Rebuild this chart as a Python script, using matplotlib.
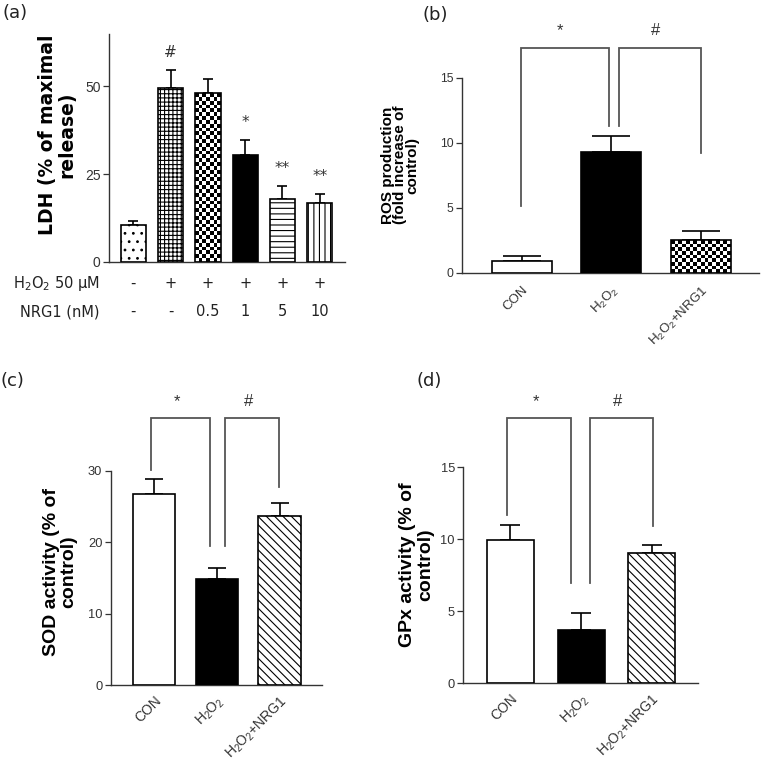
import numpy as np
import matplotlib
matplotlib.use('Agg')
import matplotlib.pyplot as plt
from matplotlib.patches import Rectangle

plt.rcParams['font.family'] = ['Liberation Sans', 'DejaVu Sans']
plt.rcParams['hatch.linewidth'] = 0.8
plt.rcParams['mathtext.default'] = 'regular'

# ---- data ----
# (a) LDH release
ldh_mean = [10.4, 49.6, 48.0, 30.4, 18.0, 16.6]
ldh_err = [1.2, 5.0, 4.0, 4.2, 3.5, 2.6]
ldh_marks = ['', '#', '', '*', '**', '**']
h2o2_row = ['-', '+', '+', '+', '+', '+']
nrg1_row = ['-', '-', '0.5', '1', '5', '10']

groups = ['CON', r'$\mathregular{H_2O_2}$', r'$\mathregular{H_2O_2}$+NRG1']

# (b) ROS production
ros_mean = [0.92, 9.3, 2.5]
ros_err = [0.36, 1.2, 0.7]
# (c) SOD activity
sod_mean = [26.7, 14.85, 23.6]
sod_err = [2.1, 1.55, 1.9]
# (d) GPx activity
gpx_mean = [9.95, 3.68, 9.03]
gpx_err = [1.02, 1.22, 0.55]

# significance brackets: (x_left, x_right, y_left_end, y_right_end), top, mark
ros_brackets = [(-0.01, 0.97, 5.15, 11.3), (1.08, 2.0, 11.3, 9.2)]
ros_top = 17.3
sod_brackets = [(-0.05, 0.9, 30.1, 19.5), (1.14, 1.99, 19.5, 27.7)]
sod_top = 37.3
gpx_brackets = [(-0.045, 0.86, 11.7, 7.0), (1.12, 2.02, 7.0, 10.9)]
gpx_top = 18.4
marks = ['*', '#']

W, H = 761, 763
fig = plt.figure(figsize=(W / 100, H / 100), dpi=100)


def box(l, t, r, b):
    return [l / W, 1 - b / H, (r - l) / W, (b - t) / H]


def style(ax, yticks, size):
    for s in ['top', 'right']:
        ax.spines[s].set_visible(False)
    for s in ['left', 'bottom']:
        ax.spines[s].set_color('#333333')
        ax.spines[s].set_linewidth(1.0)
    ax.set_yticks(yticks)
    ax.tick_params(axis='y', length=4, width=0.9, color='#333333',
                   labelsize=size, labelcolor='#333333', pad=2)
    ax.tick_params(axis='x', length=0)


def checker(ax, x, h, w, cell=3.8):
    p0 = ax.transData.transform((x - w / 2, 0))
    p1 = ax.transData.transform((x + w / 2, h))
    nx = max(1, int(round((p1[0] - p0[0]) / cell)))
    ny = max(1, int(round((p1[1] - p0[1]) / cell)))
    board = np.indices((ny, nx)).sum(axis=0) % 2
    im = ax.imshow(board, extent=(x - w / 2, x + w / 2, 0, h), cmap='gray',
                   interpolation='nearest', aspect='auto', zorder=2)
    clip = Rectangle((x - w / 2, 0), w, h, transform=ax.transData)
    im.set_clip_path(clip)


def bars(ax, means, errs, width, styles, capsize):
    x = np.arange(len(means))
    ax.errorbar(x, means, yerr=[np.zeros(len(errs)), errs], fmt='none',
                ecolor='black', elinewidth=1.2, capsize=capsize, capthick=1.2,
                zorder=1)
    for xi, m, st in zip(x, means, styles):
        if st == 'checker':
            checker(ax, xi, m, width)
            ax.bar(xi, m, width, facecolor='none', edgecolor='black',
                   linewidth=1.2, zorder=3)
        elif st == 'black':
            ax.bar(xi, m, width, color='black', edgecolor='black',
                   linewidth=1.2, zorder=3)
        else:
            ax.bar(xi, m, width, color='white', edgecolor='black',
                   hatch=st, linewidth=1.2, zorder=3)
    return x


def brackets(ax, brs, top, lw=1.3):
    for (xl, xr, yl, yr), mk in zip(brs, marks):
        ax.plot([xl, xl, xr, xr], [yl, top, top, yr], color='#555555',
                lw=lw, clip_on=False, solid_joinstyle='miter')
        ax.annotate(mk, ((xl + xr) / 2 - 0.05, top), xytext=(0, 9),
                    textcoords='offset points', ha='center', va='baseline',
                    fontsize=12, color='#333333', annotation_clip=False)


# ---- (a) ----
ax = fig.add_axes(box(109, 33.7, 345, 261.7))
ax.set_xlim(-0.651, 5.676)
ax.set_ylim(0, 65)
style(ax, [0, 25, 50], 10)
x = bars(ax, ldh_mean, ldh_err, 0.678,
         ['..', '++++', 'checker', 'black', '---', '|||'], 3.8)
ax.set_xlim(-0.651, 5.676)
ax.set_ylim(0, 65)
ax.set_xticks([])
for xi, m, e, mk in zip(x, ldh_mean, ldh_err, ldh_marks):
    if mk:
        ax.text(xi, m + e + 5, mk, ha='center', va='center', fontsize=11,
                color='#333333', family='DejaVu Sans')
tr = ax.get_xaxis_transform()
ax.text(-0.893, -0.0947, r'$\mathregular{H_2O_2}$ 50 μM', transform=tr,
        ha='right', va='center', fontsize=10.5, family='DejaVu Sans',
        color='#222222', clip_on=False)
ax.text(-0.893, -0.219, 'NRG1 (nM)', transform=tr, ha='right', va='center',
        fontsize=10.5, family='DejaVu Sans', color='#222222', clip_on=False)
for xi, a, b in zip(x, h2o2_row, nrg1_row):
    ax.text(xi, -0.0947, a, transform=tr, ha='center', va='center',
            fontsize=10.5, family='DejaVu Sans', color='#222222')
    ax.text(xi, -0.219, b, transform=tr, ha='center', va='center',
            fontsize=10.5, family='DejaVu Sans', color='#222222')

# ---- (b) ----
ax = fig.add_axes(box(461.7, 77.7, 759, 272.7))
ax.set_xlim(-0.668, 2.643)
ax.set_ylim(0, 15)
style(ax, [0, 5, 10, 15], 8.7)
x = bars(ax, ros_mean, ros_err, 0.668, ['', 'black', 'checker'], 14)
ax.set_xlim(-0.668, 2.643)
ax.set_ylim(0, 15)
ax.set_xticks(x)
ax.set_xticklabels(groups, rotation=45, ha='right', rotation_mode='anchor',
                   fontsize=9.5, color='#333333')
ax.tick_params(axis='x', pad=8)
brackets(ax, ros_brackets, ros_top)

# ---- (c) ----
ax = fig.add_axes(box(110.7, 470.7, 321.7, 685.3))
ax.set_xlim(-0.684, 2.671)
ax.set_ylim(0, 30)
style(ax, [0, 10, 20, 30], 9.3)
x = bars(ax, sod_mean, sod_err, 0.668, ['', 'black', '\\\\\\\\'], 6.2)
ax.set_xticks(x)
ax.set_xticklabels(groups, rotation=45, ha='right', rotation_mode='anchor',
                   fontsize=10, color='#333333')
ax.tick_params(axis='x', pad=6)
brackets(ax, sod_brackets, sod_top)

# ---- (d) ----
ax = fig.add_axes(box(463.3, 467.3, 697.7, 683.3))
ax.set_xlim(-0.668, 2.650)
ax.set_ylim(0, 15)
style(ax, [0, 5, 10, 15], 9.3)
x = bars(ax, gpx_mean, gpx_err, 0.665, ['', 'black', '\\\\\\\\'], 7.2)
ax.set_xticks(x)
ax.set_xticklabels(groups, rotation=45, ha='right', rotation_mode='anchor',
                   fontsize=10, color='#333333')
ax.tick_params(axis='x', pad=6)
brackets(ax, gpx_brackets, gpx_top)

# ---- y labels and panel letters ----
def ylab(text, cx, cy, size, ls, family=None):
    fig.text(cx / W, 1 - cy / H, text, rotation=90, ha='center', va='center',
             multialignment='center', fontsize=size, fontweight='bold',
             linespacing=ls, family=family)


ylab('LDH (% of maximal\nrelease)', 57, 135, 13.5, 1.0, family='DejaVu Sans')
ylab('ROS production\n(fold increase of\ncontrol)', 400, 165, 11, 0.82)
ylab('SOD activity (% of\ncontrol)', 60.5, 571.5, 14, 1.02)
ylab('GPx activity (% of\ncontrol)', 416.5, 565, 14, 1.05)

for lab, px, py in [('(a)', 3, 4), ('(b)', 423, 6), ('(c)', 0, 372), ('(d)', 417, 372)]:
    fig.text(px / W, 1 - py / H, lab, ha='left', va='top', fontsize=13,
             family='DejaVu Sans', color='#222222')

fig.savefig('out.png', dpi=100)
